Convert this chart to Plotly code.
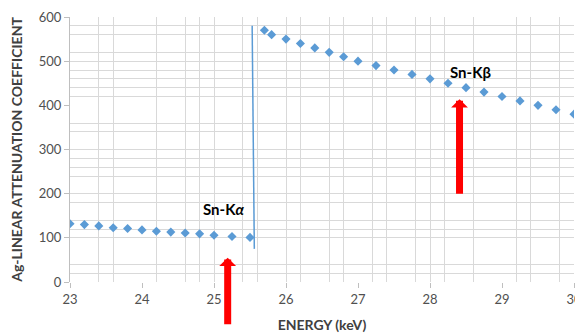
import plotly.graph_objects as go

# Data
low_energy = [23.0, 23.2, 23.4, 23.6, 23.8, 24.0, 24.2, 24.4, 24.6, 24.8, 25.0, 25.25, 25.5]
low_coef = [132, 130, 127, 123, 121, 118, 115, 113, 111, 109, 106, 103, 101]

high_energy = [25.7, 25.8, 26.0, 26.2, 26.4, 26.6, 26.8, 27.0, 27.25, 27.5, 27.75,
               28.0, 28.25, 28.5, 28.75, 29.0, 29.25, 29.5, 29.75, 30.0]
high_coef = [570, 560, 550, 540, 530, 520, 510, 500, 490, 480, 470,
             460, 450, 440, 430, 420, 410, 400, 390, 380]

edge_energy = [25.53, 25.56]
edge_coef = [580, 75]

x_ticks = [23, 24, 25, 26, 27, 28, 29, 30]
y_ticks = [0, 100, 200, 300, 400, 500, 600]
x_grid = [23, 23.4, 23.6, 24.2, 24.6, 24.8, 25, 25.4, 25.6, 26, 26.2, 26.6, 26.8,
          27.2, 27.4, 27.8, 28, 28.2, 28.6, 29.2, 29.4, 29.8, 30]
y_grid = [20, 40, 100, 120, 140, 180, 200, 240, 260, 280, 300, 340, 360,
          420, 440, 460, 480, 500, 520, 560, 580, 600]

# Annotation anchors (energy, coefficient)
ka_label = (25.13, 165)
kb_label = (28.56, 475)
ka_arrow = (25.19, 55)
kb_arrow = (28.41, 414)

blue = "#5B9BD5"
grid_col = "#D9D9D9"

fig = go.Figure()
fig.add_trace(go.Scatter(x=edge_energy, y=edge_coef, mode="lines",
                         line=dict(color=blue, width=1.5), hoverinfo="skip"))
fig.add_trace(go.Scatter(x=low_energy, y=low_coef, mode="markers",
                         marker=dict(symbol="diamond", size=7, color=blue)))
fig.add_trace(go.Scatter(x=high_energy, y=high_coef, mode="markers",
                         marker=dict(symbol="diamond", size=7, color=blue)))

fig.add_annotation(x=ka_label[0], y=ka_label[1], text="<b>Sn-K<i>α</i></b>", showarrow=False,
                   font=dict(family="Lato", size=15, color="#000000"))
fig.add_annotation(x=kb_label[0], y=kb_label[1], text="<b>Sn-Kβ</b>", showarrow=False,
                   font=dict(family="Lato", size=15, color="#000000"))
fig.add_annotation(x=ka_arrow[0], y=ka_arrow[1], text="", showarrow=True, ax=0, ay=68,
                   arrowhead=1, arrowsize=0.4, arrowwidth=7, arrowcolor="#FF0000")
fig.add_annotation(x=kb_arrow[0], y=kb_arrow[1], text="", showarrow=True, ax=0, ay=96,
                   arrowhead=1, arrowsize=0.4, arrowwidth=7, arrowcolor="#FF0000")

tick_font = dict(family="Lato", size=13, color="#505050")
fig.update_layout(
    width=575, height=325,
    margin=dict(l=62, r=9, t=9, b=51),
    paper_bgcolor="white", plot_bgcolor="white",
    showlegend=False,
    xaxis=dict(range=[23, 30], tickmode="array", tickvals=x_ticks, showgrid=False,
               automargin=False,
               zeroline=False, showline=False, ticks="outside", ticklen=5,
               tickcolor="#BFBFBF", tickfont=tick_font,
               minor=dict(tickmode="array", tickvals=x_grid, showgrid=True,
                          gridcolor=grid_col, gridwidth=1),
               title=dict(text="<b>ENERGY (keV)</b>",
                          font=dict(family="Lato", size=14, color="#404040"))),
    yaxis=dict(range=[0, 600], tickmode="array", tickvals=y_ticks, showgrid=False,
               automargin=False,
               zeroline=False, showline=True, linecolor="#BFBFBF", ticks="outside",
               ticklen=5, tickcolor="#BFBFBF", tickfont=tick_font,
               minor=dict(tickmode="array", tickvals=y_grid, showgrid=True,
                          gridcolor=grid_col, gridwidth=1),
               title=dict(text="<b>Ag-LINEAR ATTENUATION COEFFICIENT</b>",
                          font=dict(family="Lato", size=14, color="#404040"))),
)

fig.write_html("out.html", config={"displayModeBar": False})
